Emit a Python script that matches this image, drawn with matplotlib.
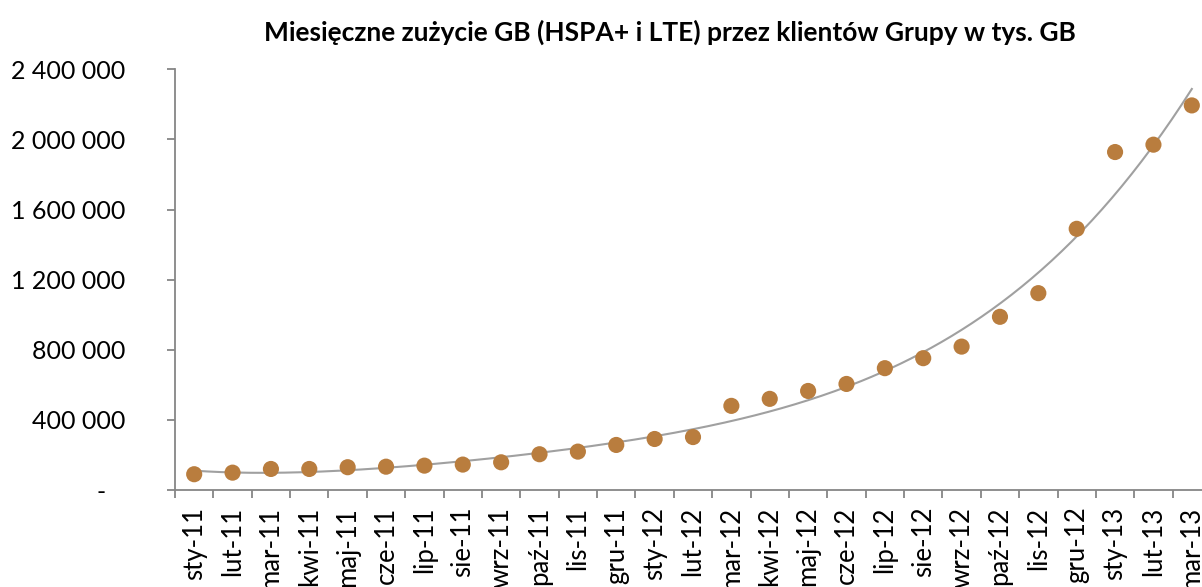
import numpy as np
import matplotlib.pyplot as plt
from matplotlib.ticker import FuncFormatter

# dane: miesięczne zużycie GB (tys. GB)
months = ["sty-11", "lut-11", "mar-11", "kwi-11", "maj-11", "cze-11", "lip-11", "sie-11",
          "wrz-11", "paź-11", "lis-11", "gru-11", "sty-12", "lut-12", "mar-12", "kwi-12",
          "maj-12", "cze-12", "lip-12", "sie-12", "wrz-12", "paź-12", "lis-12", "gru-12",
          "sty-13", "lut-13", "mar-13"]
usage = [90000, 99000, 120000, 120000, 130000, 133000, 139000, 145000,
         158000, 204000, 219000, 257000, 291000, 302000, 480000, 520000,
         565000, 605000, 695000, 752000, 818000, 988000, 1123000, 1490000,
         1928000, 1970000, 2194000]
y_ticks = [0, 400000, 800000, 1200000, 1600000, 2000000, 2400000]
title = "Miesięczne zużycie GB (HSPA+ i LTE) przez klientów Grupy w tys. GB"

plt.rcParams["font.family"] = ["Lato", "DejaVu Sans"]

x = np.arange(len(months))
# linia trendu (wielomian)
coef = np.polyfit(x, usage, 4)
xs = np.linspace(0, len(months) - 1, 300)

fig = plt.figure(figsize=(12.02, 5.87), dpi=100)
ax = fig.add_axes([175 / 1202, 1 - 490 / 587, 1036 / 1202, 420.7 / 587])

ax.plot(xs, np.polyval(coef, xs), color="#A0A0A0", lw=1.5, zorder=2)
ax.scatter(x, usage, s=135, color="#B97D3E", edgecolors="none", zorder=3)

ax.set_xlim(-0.5, len(months) - 0.5)
ax.set_ylim(0, 2400000)

def fmt(v, pos):
    if v == 0:
        return "-   "
    return f"{int(v):,}".replace(",", " ")

ax.set_yticks(y_ticks)
ax.yaxis.set_major_formatter(FuncFormatter(fmt))
ax.set_xticks(np.arange(len(months) + 1) - 0.5)
ax.set_xticklabels([])
ax.set_xticks(x, labels=months, minor=True, rotation=90)
ax.tick_params(axis="x", which="minor", length=0, pad=12, labelsize=18.5)
ax.tick_params(axis="x", which="major", length=6, width=1.3, color="#868686")
ax.tick_params(axis="y", length=6, width=1.3, color="#868686", labelsize=18, pad=30)

for side in ["top", "right"]:
    ax.spines[side].set_visible(False)
for side in ["left", "bottom"]:
    ax.spines[side].set_color("#868686")
    ax.spines[side].set_linewidth(1.3)

fig.text(0.557, 0.945, title, ha="center", va="center", fontsize=19, fontweight="bold")

fig.savefig("out.png", dpi=100)
